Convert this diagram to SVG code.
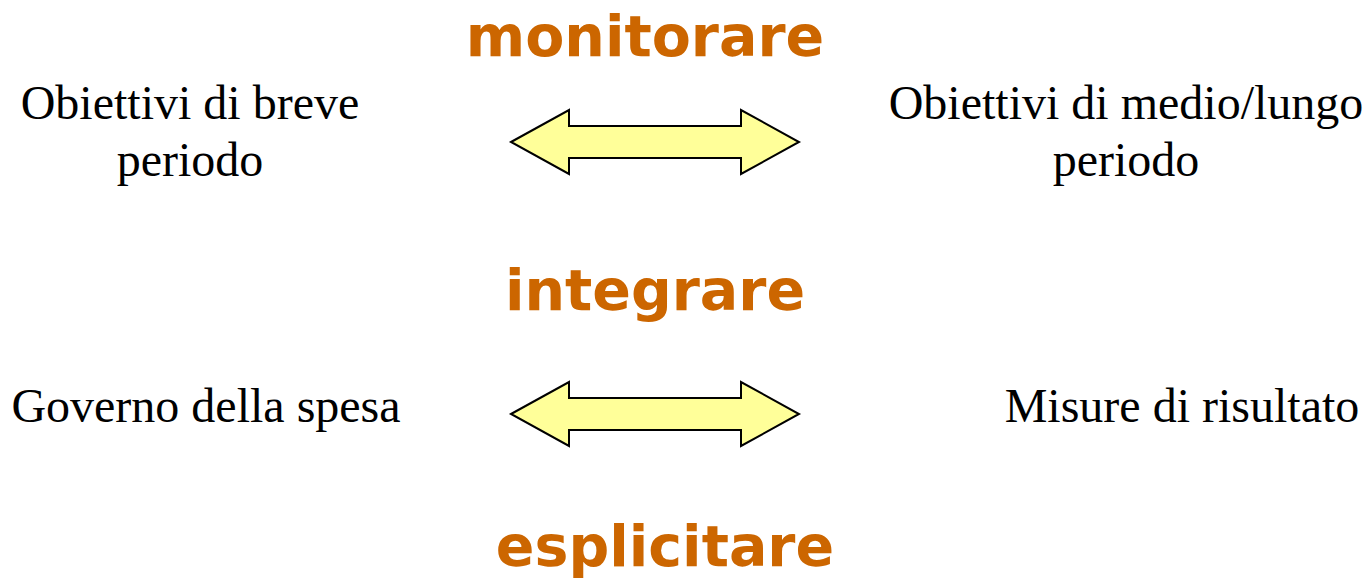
<svg xmlns="http://www.w3.org/2000/svg" width="1368" height="579" viewBox="0 0 1368 579">
  <style>
    .verb { font-family: "DejaVu Sans", Verdana, sans-serif; font-weight: bold; font-size: 57px; fill: #CC6600; text-anchor: middle; }
    .label { font-family: "Liberation Serif", "Times New Roman", serif; font-size: 48px; fill: #000000; text-anchor: middle; }
    .dbl { fill: #FFFF99; stroke: #000000; stroke-width: 2; stroke-linejoin: miter; }
  </style>
  <defs>
    <!-- double-headed block arrow, origin at left tip on the axis -->
    <polygon id="dblArrow" points="0,0 58,-32 58,-16 230,-16 230,-32 288,0 230,32 230,16 58,16 58,32"/>
  </defs>

  <rect width="1368" height="579" fill="#FFFFFF"/>

  <g id="monitorare"><text class="verb" x="645" y="56">monitorare</text></g>
  <g id="integrare"><text class="verb" x="655" y="310">integrare</text></g>
  <g id="esplicitare"><text class="verb" x="665" y="566">esplicitare</text></g>

  <g id="breve">
    <text class="label" x="190" y="119">Obiettivi di breve</text>
    <text class="label" x="190" y="176">periodo</text>
  </g>
  <g id="medio-lungo">
    <text class="label" x="1126" y="119">Obiettivi di medio/lungo</text>
    <text class="label" x="1126" y="176">periodo</text>
  </g>
  <g id="spesa"><text class="label" x="206" y="422">Governo della spesa</text></g>
  <g id="risultato"><text class="label" x="1182" y="422">Misure di risultato</text></g>

  <g id="connectors">
    <use href="#dblArrow" class="dbl" transform="translate(511,142)"/>
    <use href="#dblArrow" class="dbl" transform="translate(511,414)"/>
  </g>
</svg>
